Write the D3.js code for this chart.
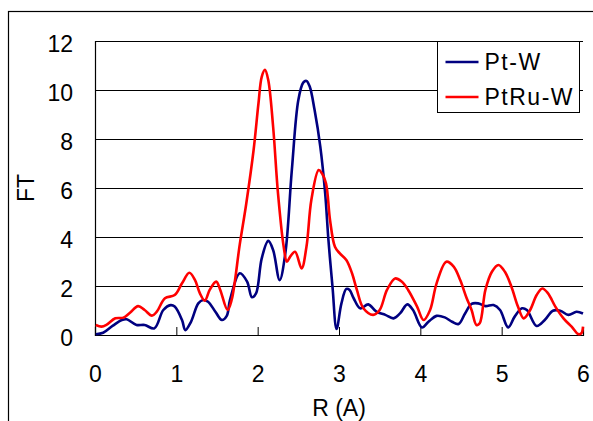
<!DOCTYPE html>
<html>
<head>
<meta charset="utf-8">
<script src="https://cdn.jsdelivr.net/npm/d3@7"></script>
<style>
body { margin: 0; background: #fff; }
text { font-family: "Liberation Sans", Arial, sans-serif; fill: #000; }
</style>
</head>
<body>
<div id="chart"></div>
<script>
// series names
var seriesNames = ["Pt-W", "PtRu-W"];
var seriesColors = ["#000080", "#ff0000"];

// Pt-W : R (A) and FT
var ptR = [0.01,0.1,0.22,0.33,0.39,0.51,0.61,0.73,0.84,0.93,0.98,1.07,1.11,1.18,1.27,1.33,1.39,1.48,1.56,1.62,1.66,1.78,1.87,1.93,1.98,2.05,2.13,2.19,2.27,2.34,2.42,2.50,2.56,2.60,2.64,2.70,2.77,2.83,2.87,2.92,2.97,3.03,3.09,3.13,3.18,3.26,3.36,3.46,3.57,3.67,3.75,3.84,3.91,4.02,4.10,4.20,4.30,4.39,4.47,4.55,4.63,4.71,4.80,4.90,4.98,5.08,5.16,5.25,5.31,5.43,5.53,5.63,5.72,5.82,5.92,6.0];
var ptFT = [0.03,0.09,0.38,0.61,0.64,0.41,0.41,0.27,1.02,1.22,1.16,0.61,0.2,0.54,1.29,1.43,1.36,0.95,0.61,0.78,1.43,2.52,2.18,1.54,1.70,3.13,3.84,3.47,2.24,3.33,6.73,9.59,10.3,10.37,10.14,9.18,7.69,5.78,3.88,1.97,0.25,1.29,1.88,1.84,1.50,1.09,1.25,0.95,0.82,0.68,0.88,1.25,1.02,0.31,0.54,0.78,0.72,0.54,0.45,0.88,1.27,1.29,1.18,1.22,1.02,0.31,0.75,1.09,1.02,0.37,0.61,0.99,0.99,0.82,0.95,0.88];

// PtRu-W : R (A) and FT
var ptruR = [0.01,0.08,0.14,0.25,0.35,0.43,0.53,0.61,0.70,0.76,0.86,0.98,1.07,1.16,1.23,1.29,1.35,1.41,1.49,1.54,1.63,1.68,1.78,1.86,1.95,2.01,2.05,2.09,2.13,2.19,2.25,2.32,2.36,2.40,2.46,2.54,2.60,2.66,2.75,2.79,2.84,2.89,2.95,3.01,3.09,3.16,3.22,3.30,3.42,3.50,3.59,3.69,3.77,3.85,3.96,4.04,4.12,4.20,4.32,4.41,4.49,4.57,4.63,4.69,4.73,4.80,4.88,4.96,5.04,5.12,5.20,5.27,5.35,5.43,5.50,5.57,5.66,5.76,5.86,5.94,5.98,6.0];
var ptruFT = [0.41,0.34,0.41,0.68,0.71,0.91,1.18,1.02,0.79,0.95,1.50,1.63,2.11,2.54,2.24,1.70,1.40,1.84,2.18,1.84,1.02,1.43,3.7,5.37,7.55,9.46,10.54,10.82,10.41,8.5,5.78,3.6,2.99,3.2,3.4,2.72,3.6,5.51,6.73,6.6,6.19,4.69,3.6,3.33,3.06,2.52,1.84,1.09,0.82,1.02,1.84,2.31,2.18,1.84,1.16,0.61,1.02,2.11,2.99,2.79,2.24,1.50,1.02,0.41,0.48,1.84,2.58,2.86,2.58,1.97,1.16,0.68,1.02,1.63,1.90,1.70,1.16,0.68,0.34,0.04,0.07,0.34];

var xTicks = [0, 1, 2, 3, 4, 5, 6];
var yTicks = [0, 2, 4, 6, 8, 10, 12];

var width = 593,
    height = 421;

var margin = { left: 95, top: 41, right: 10, bottom: 86 };
var plotW = width - margin.left - margin.right,
    plotH = height - margin.top - margin.bottom;

var svg = d3.select("#chart")
            .append("svg")
            .attr("width", width)
            .attr("height", height);

// outer chart frame (only left and top edges are in view)
svg.append("rect")
   .attr("x", 8.5)
   .attr("y", 11.5)
   .attr("width", 700)
   .attr("height", 500)
   .attr("fill", "none")
   .attr("stroke", "#000")
   .attr("stroke-width", 1.2);

var x = d3.scaleLinear().domain([0, 6]).range([0, plotW]);
var y = d3.scaleLinear().domain([0, 12]).range([plotH, 0]);

var g = svg.append("g")
           .attr("transform", "translate(" + margin.left + "," + margin.top + ")");

// horizontal gridlines
g.append("g")
 .attr("class", "grid")
 .call(d3.axisLeft(y).tickValues(yTicks).tickSize(-plotW).tickFormat(""))
 .call(function (s) {
   s.select(".domain").remove();
   s.selectAll("line").attr("stroke", "#000").attr("stroke-width", 1);
 });

// y axis
g.append("g")
 .call(d3.axisLeft(y).tickValues(yTicks).tickSize(-9).tickPadding(22).tickFormat(d3.format("d")))
 .call(function (s) {
   s.select(".domain").attr("stroke", "#000").attr("stroke-width", 1.2);
   s.selectAll("text").style("font-size", "23px").attr("dy", "0.45em");
 });

// x axis
g.append("g")
 .attr("transform", "translate(0," + plotH + ")")
 .call(d3.axisBottom(x).tickValues(xTicks).tickSize(-8).tickPadding(31).tickFormat(d3.format("d")))
 .call(function (s) {
   s.select(".domain").attr("stroke", "#000").attr("stroke-width", 1.2);
   s.selectAll("text").style("font-size", "23px");
 });

// axis titles
svg.append("text")
   .attr("x", margin.left + plotW / 2)
   .attr("y", 416)
   .attr("text-anchor", "middle")
   .style("font-size", "23px")
   .text("R (A)");

svg.append("text")
   .attr("transform", "translate(34," + (margin.top + plotH / 2) + ") rotate(-90)")
   .attr("text-anchor", "middle")
   .style("font-size", "23px")
   .text("FT");

// lines
var line = d3.line()
             .x(function (d) { return x(d[0]); })
             .y(function (d) { return y(d[1]); })
             .curve(d3.curveCatmullRom);

var series = [d3.zip(ptR, ptFT), d3.zip(ptruR, ptruFT)];

g.selectAll(".series")
 .data(series)
 .enter()
 .append("path")
 .attr("class", "series")
 .attr("d", line)
 .attr("fill", "none")
 .attr("stroke", function (d, i) { return seriesColors[i]; })
 .attr("stroke-width", 2.6)
 .attr("stroke-linejoin", "round");

// legend
var legend = svg.append("g").attr("transform", "translate(437.5,41.5)");

legend.append("rect")
      .attr("width", 142)
      .attr("height", 71)
      .attr("fill", "#fff")
      .attr("stroke", "#000")
      .attr("stroke-width", 1);

var items = legend.selectAll(".item")
                  .data(seriesNames)
                  .enter()
                  .append("g")
                  .attr("transform", function (d, i) { return "translate(0," + (20.5 + i * 35) + ")"; });

items.append("line")
     .attr("x1", 8)
     .attr("x2", 41)
     .attr("stroke", function (d, i) { return seriesColors[i]; })
     .attr("stroke-width", 2.6);

items.append("text")
     .attr("x", 47)
     .attr("y", 8)
     .style("font-size", "23px")
     .style("letter-spacing", "1.5px")
     .text(function (d) { return d; });
</script>
</body>
</html>
